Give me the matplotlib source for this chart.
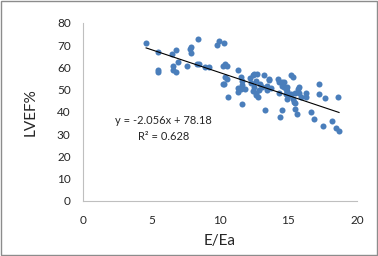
import numpy as np
import matplotlib.pyplot as plt
from matplotlib.patches import Rectangle

# valores
e_ea = [4.6, 5.5, 5.5, 5.5, 6.5, 6.8, 6.6, 6.6, 6.8, 6.9,
        7.6, 7.9, 7.8, 7.9, 8.4, 8.3, 8.5, 8.9, 9.2, 9.8,
        9.9, 10.3, 10.2, 10.4, 10.5, 10.2, 10.3, 10.4, 10.5, 10.6,
        11.3, 11.3, 11.3, 11.5, 11.5, 11.6, 11.6, 11.6, 11.85, 12.2,
        12.3, 12.4, 12.5, 12.6, 12.5, 12.4, 12.6, 12.6, 12.75, 12.7,
        12.9, 12.85, 13.2, 13.3, 13.1, 13.4, 13.45, 13.6, 13.7, 13.55,
        14.25, 14.3, 14.3, 14.35, 14.5, 14.5, 14.5, 14.65, 14.7, 14.8,
        14.9, 14.8, 14.9, 14.9, 15.2, 15.3, 15.2, 15.3, 15.4, 15.45,
        15.5, 15.6, 15.5, 15.7, 15.75, 15.8, 15.9, 16.3, 16.3, 16.65,
        16.9, 17.2, 17.2, 17.5, 17.65, 18.2, 18.5, 18.6, 18.7, 15.0]
lvef = [70.7, 66.7, 59.0, 57.8, 65.8, 67.7, 60.8, 59.0, 57.8, 62.2,
        60.7, 69.2, 68.3, 66.5, 72.6, 61.4, 61.4, 60.2, 60.2, 70.1,
        71.6, 71.0, 60.8, 61.3, 60.5, 52.5, 52.5, 55.5, 54.6, 46.8,
        59.0, 50.8, 48.9, 50.1, 55.5, 53.7, 52.2, 43.5, 50.1, 55.0,
        52.8, 56.4, 57.0, 53.7, 51.0, 49.5, 48.4, 47.5, 46.8, 57.0,
        52.3, 49.8, 56.5, 40.8, 51.0, 51.6, 49.8, 54.7, 50.5, 54.3,
        54.6, 53.2, 48.3, 37.8, 53.5, 51.6, 40.8, 53.5, 51.0, 50.1,
        49.5, 48.0, 45.6, 51.0, 56.6, 55.5, 47.8, 46.0, 44.5, 43.8,
        41.1, 39.0, 48.3, 50.1, 51.3, 48.3, 46.8, 48.6, 46.5, 39.8,
        36.9, 52.5, 47.8, 33.6, 46.3, 35.7, 32.6, 46.5, 31.5, 47.0]

pendiente = -2.056
intercepto = 78.18
r2 = 0.628

plt.rcParams['font.family'] = ['Lato', 'DejaVu Sans']

fig = plt.figure(figsize=(3.78, 2.56), dpi=100)
fig.patches.append(Rectangle((0.002, 0.003), 0.995, 0.993, transform=fig.transFigure,
                             fill=False, edgecolor='#8c8c8c', linewidth=1))
ax = fig.add_axes([0.220, 0.215, 0.724, 0.696])

ax.scatter(e_ea, lvef, s=19, color='#4a7ebb', zorder=3, linewidths=0)

# línea de tendencia
xs = np.array([min(e_ea), max(e_ea)])
ax.plot(xs, pendiente * xs + intercepto, color='black', linewidth=0.8, zorder=4)

ax.text(5.85, 36.3, f'y = {pendiente}x + {intercepto}', ha='center', va='center',
        fontsize=8, color='#262626')
ax.text(5.85, 28.8, f'R² = {r2}', ha='center', va='center', fontsize=8, color='#262626')

ax.set_xlim(0, 20)
ax.set_ylim(0, 80)
ax.set_xticks([0, 5, 10, 15, 20])
ax.set_yticks(range(0, 81, 10))
ax.tick_params(length=0, labelsize=8.5, colors='#262626')
ax.tick_params(axis='y', pad=9)
ax.tick_params(axis='x', pad=10)
for s in ['top', 'right']:
    ax.spines[s].set_visible(False)
for s in ['left', 'bottom']:
    ax.spines[s].set_color('#bfbfbf')
    ax.spines[s].set_linewidth(0.8)

ax.set_xlabel('E/Ea', fontsize=11, color='#262626', labelpad=6)
ax.set_ylabel('LVEF%', fontsize=11, color='#262626', labelpad=14)

fig.savefig('out.png', dpi=100)
